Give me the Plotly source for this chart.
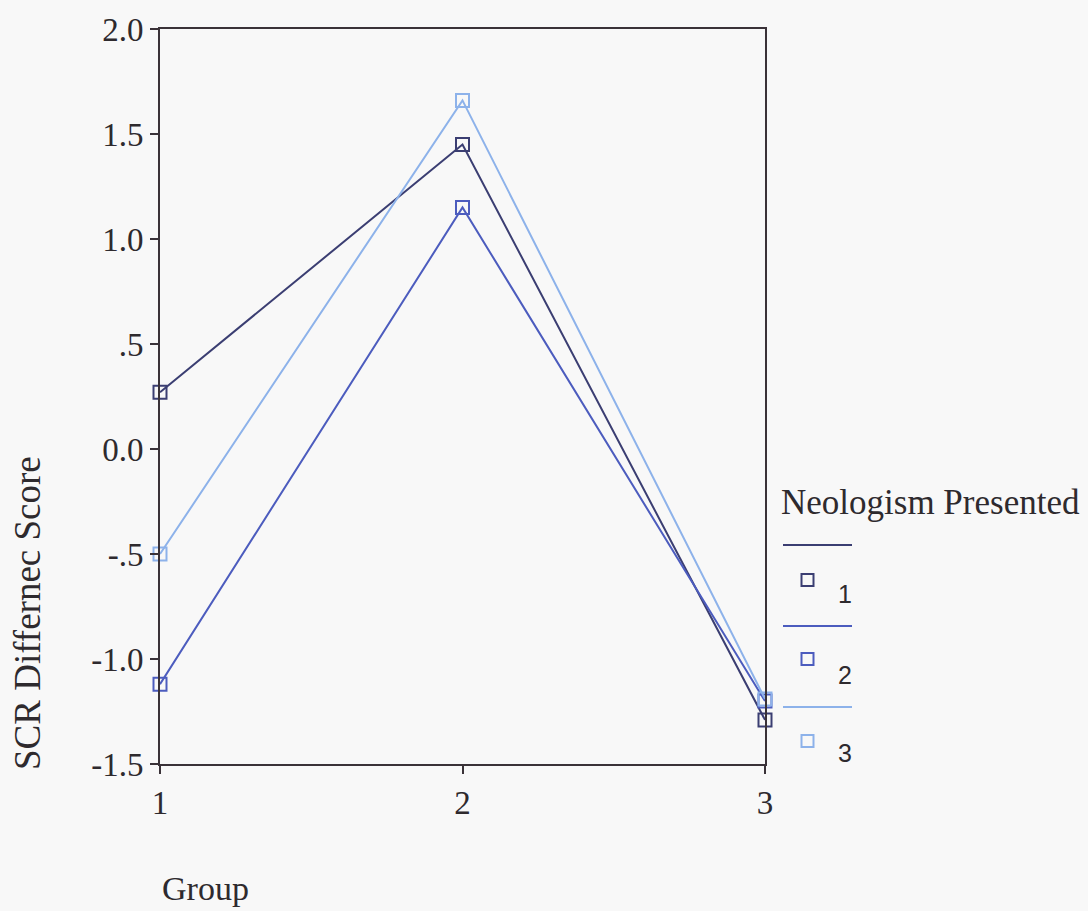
import plotly.graph_objects as go

groups = [1, 2, 3]
series_names = ["1", "2", "3"]
neo1 = [0.27, 1.45, -1.29]
neo2 = [-1.12, 1.15, -1.20]
neo3 = [-0.50, 1.66, -1.19]
colors = ["#3b3e72", "#4c5cbe", "#8db2ea"]
ytick_vals = [2.0, 1.5, 1.0, 0.5, 0.0, -0.5, -1.0, -1.5]
ytick_text = ["2.0", "1.5", "1.0", ".5", "0.0", "-.5", "-1.0", "-1.5"]

W, H = 1088, 911
L, R, T, B = 160, 323, 29, 147
bg = "#f8f8f8"
axis_col = "#3a3238"
txt = "#2e2a2e"

fig = go.Figure()
for name, ys, c in zip(series_names, [neo1, neo2, neo3], colors):
    fig.add_trace(go.Scatter(
        x=groups, y=ys, mode="lines+markers", name=name,
        line=dict(color=c, width=2),
        marker=dict(symbol="square-open", size=13, color=c, line=dict(width=2)),
        cliponaxis=False, showlegend=False))

fig.update_layout(
    width=W, height=H, margin=dict(l=L, r=R, t=T, b=B),
    paper_bgcolor=bg, plot_bgcolor=bg,
    font=dict(family="Liberation Serif", size=33, color=txt),
    xaxis=dict(range=[1, 3], tickvals=groups, ticktext=[str(g) for g in groups],
               showgrid=False, zeroline=False, showline=True, linecolor=axis_col,
               linewidth=2, mirror=True, ticks="outside", ticklen=8, tickwidth=2,
               tickcolor=axis_col, tickfont=dict(family="Liberation Serif", size=33, color=txt)),
    yaxis=dict(range=[-1.5, 2.0], tickvals=ytick_vals, ticktext=ytick_text,
               showgrid=False, zeroline=False, showline=True, linecolor=axis_col,
               linewidth=2, mirror=True, ticks="outside", ticklen=8, tickwidth=2,
               tickcolor=axis_col, tickfont=dict(family="Liberation Serif", size=33, color=txt)),
)


def px(x):
    return (x - L) / (W - L - R)


def py(y):
    return (H - B - y) / (H - T - B)


# Axis titles
fig.add_annotation(text="SCR Differnec Score", xref="paper", yref="paper",
                   x=px(27), y=py(613), textangle=-90, showarrow=False,
                   xanchor="center", yanchor="middle",
                   font=dict(family="Liberation Serif", size=37, color=txt))
fig.add_annotation(text="Group", xref="paper", yref="paper",
                   x=px(205), y=py(888), showarrow=False, xanchor="center", yanchor="middle",
                   font=dict(family="Liberation Serif", size=34, color=txt))

# Legend (SPSS style)
fig.add_annotation(text="Neologism Presented", xref="paper", yref="paper",
                   x=px(930), y=py(503), showarrow=False, xanchor="center", yanchor="middle",
                   font=dict(family="Liberation Serif", size=35, color=txt))
line_y = [545, 626, 707]
mark_y = [580, 659, 741]
lab_y = [594, 675, 753]
for i, (name, c) in enumerate(zip(series_names, colors)):
    fig.add_shape(type="line", xref="paper", yref="paper",
                  x0=px(783), x1=px(852), y0=py(line_y[i]), y1=py(line_y[i]),
                  line=dict(color=c, width=2))
    cy = mark_y[i]
    fig.add_shape(type="rect", xref="paper", yref="paper",
                  x0=px(801.5), x1=px(813.5), y0=py(cy + 6), y1=py(cy - 6),
                  line=dict(color=c, width=2))
    fig.add_annotation(text=name, xref="paper", yref="paper",
                       x=px(845), y=py(lab_y[i]), showarrow=False, xanchor="center",
                       yanchor="middle",
                       font=dict(family="Liberation Sans", size=25, color=txt))

fig.write_html("out.html")
